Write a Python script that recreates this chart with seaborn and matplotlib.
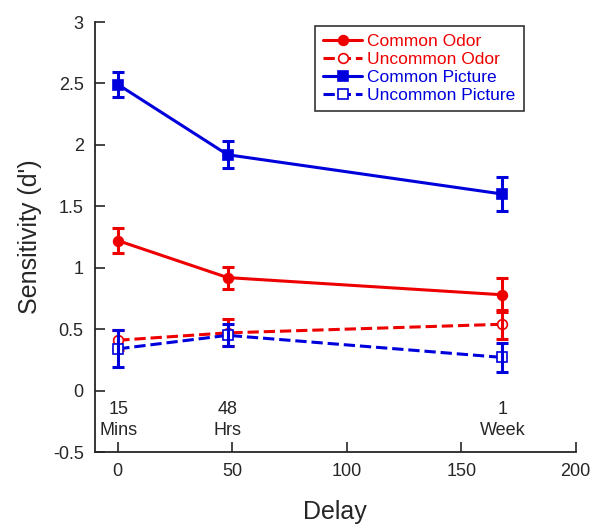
import pandas as pd
import seaborn as sns
import matplotlib.pyplot as plt

delay = [0.25, 48, 168]
common_odor = [1.22, 0.92, 0.78]
common_odor_err = [0.10, 0.09, 0.14]
uncommon_odor = [0.41, 0.47, 0.54]
uncommon_odor_err = [0.08, 0.11, 0.12]
common_pic = [2.49, 1.92, 1.60]
common_pic_err = [0.10, 0.11, 0.14]
uncommon_pic = [0.34, 0.45, 0.27]
uncommon_pic_err = [0.15, 0.09, 0.12]
delay_labels = ["15\nMins", "48\nHrs", "1\nWeek"]

series = [
    ("Common Odor", common_odor, common_odor_err, "#ee0000", "-", "o", "#ee0000"),
    ("Uncommon Odor", uncommon_odor, uncommon_odor_err, "#ee0000", "--", "o", "white"),
    ("Common Picture", common_pic, common_pic_err, "#0000dd", "-", "s", "#0000dd"),
    ("Uncommon Picture", uncommon_pic, uncommon_pic_err, "#0000dd", "--", "s", "white"),
]

sns.set_style("ticks")
plt.rcParams["font.family"] = ["Liberation Sans", "DejaVu Sans"]

fig = plt.figure(figsize=(5.96, 5.25), dpi=100)
ax = fig.add_axes([0.159, 0.139, 0.807, 0.819])

for name, vals, errs, color, ls, mk, mfc in series:
    df = pd.DataFrame({"Delay": delay, "d": vals})
    sns.lineplot(data=df, x="Delay", y="d", ax=ax, color=color, linestyle=ls,
                 linewidth=2.2, marker=mk, markersize=7, markerfacecolor=mfc,
                 markeredgecolor=color, markeredgewidth=1.2, label=name,
                 dashes=False if ls == "-" else (4, 3.5))
    ax.errorbar(delay, vals, yerr=errs, fmt="none", ecolor=color,
                elinewidth=2.2, capsize=4, capthick=2.2)

for x, lab in zip(delay, delay_labels):
    ax.text(x, -0.24, lab, ha="center", va="center", fontsize=13,
            linespacing=1.3)

ax.set_xlim(-10, 200)
ax.set_ylim(-0.5, 3)
ax.set_xticks([0, 50, 100, 150, 200])
ax.set_yticks([-0.5, 0, 0.5, 1, 1.5, 2, 2.5, 3])
ax.set_yticklabels(["-0.5", "0", "0.5", "1", "1.5", "2", "2.5", "3"])
ax.tick_params(direction="in", length=7, width=1.2, labelsize=13, pad=8)
sns.despine(ax=ax)
for s in ["left", "bottom"]:
    ax.spines[s].set_linewidth(1.3)
ax.set_xlabel("Delay", fontsize=18, labelpad=14)
ax.set_ylabel("Sensitivity (d')", fontsize=18, labelpad=8)

leg = ax.legend(loc="upper right", bbox_to_anchor=(0.91, 1.012), fontsize=12.5,
                frameon=True, fancybox=False, edgecolor="black",
                handlelength=2.2, borderpad=0.5, labelspacing=0.15,
                handletextpad=0.3)
leg.get_frame().set_linewidth(1.2)
for txt, s in zip(leg.get_texts(), series):
    txt.set_color(s[3])

fig.savefig("out.png", dpi=100)
